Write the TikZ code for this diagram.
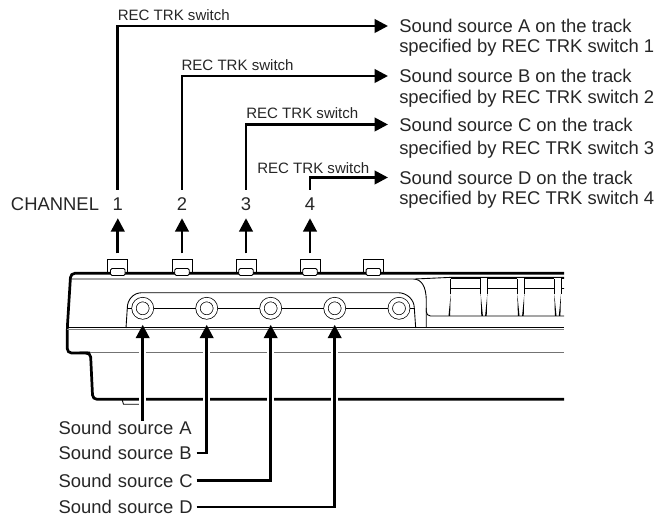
\documentclass[tikz,border=0pt]{standalone}
\usepackage{fontspec}
\setmainfont{Liberation Sans}
\usetikzlibrary{arrows.meta}
\tikzset{
	route/.style={line width=0.68mm, color=black, -{Triangle[length=9.5pt,width=9.5pt]}},
	haloroute/.style={route, preaction={draw=white, line width=1.76mm}},
	bigtext/.style={font=\fontsize{13.1}{15}\selectfont, text=black!85},
	smalltext/.style={font=\fontsize{10.7}{13}\selectfont, text=black!85, anchor=west, inner sep=0pt},
	destlabel/.style={bigtext, anchor=west, inner ysep=0pt, inner xsep=7.8pt},
	srclabel/.style={bigtext, anchor=west, inner sep=0pt, text width=97.9pt, text height=9.6pt, text depth=0pt},
	chnum/.style={bigtext, inner xsep=0pt, inner ysep=5.2pt, text height=9.4pt, text depth=0pt},
	swbox/.style={draw, line width=0.22mm, minimum width=14.3pt, minimum height=10pt, inner sep=0pt},
	swcap/.style={draw, fill=white, line width=0.22mm, rounded corners=1pt, minimum width=10.3pt, minimum height=5pt, inner sep=0pt},
	jack/.style={circle, draw, double, double distance=2.6pt, line width=0.18mm, fill=white, minimum size=12.4pt, inner sep=0pt, outer sep=5.5pt},
	thin line/.style={line width=0.22mm}
}
\def\keycap(#1){
	\draw[thin line, shift={(#1,0)}] (0, 278.8) -- (30, 278.8) (0, 288) -- (30, 288) (0, 278.8) -- (0, 294) (30, 278.8) -- (30, 294);
	\fill[shift={(#1,0)}] (0, 294) -- (-2.2, 316) -- (-0.6, 316) -- cycle (30, 294) -- (32.2, 316) -- (30.6, 316) -- cycle;
}

\begin{document}
\begin{tikzpicture}[x=0.025cm, y=-0.025cm]
	\useasboundingbox (0, 0) rectangle (667, 517);

	% switches behind the top edge
	\node[swbox] (sw1) at (117.8, 266) {};
	\node[swbox] (sw2) at (182, 266) {};
	\node[swbox] (sw3) at (246, 266) {};
	\node[swbox] (sw4) at (310, 266) {};
	\node[swbox] (sw5) at (373.4, 266) {};

	% body
	\draw[line width=0.68mm, rounded corners=3pt] (564, 273.3) -- (70.7, 273.3) -- (67.3, 328) -- (67.3, 353) -- (90, 353);
	\draw[line width=0.68mm, rounded corners=3pt] (88, 353) -- (90.5, 353) -- (92.7, 399.3) -- (564, 399.3);
	\draw[thin line] (122, 399.3) -- (123.5, 404.3) -- (139, 404.3);
	\draw[thin line] (70.7, 279) -- (413, 279) .. controls (422, 279) and (426, 287) .. (426.3, 300) -- (426.3, 328);
	\draw[thin line] (415, 279) -- (450, 277.4) -- (564, 277.4);
	\draw[thin line, rounded corners=3pt] (426.3, 308) -- (426.3, 316) -- (564, 316);
	\draw[thin line] (67.3, 327.7) -- (564, 327.7);
	\draw[thin line, color=black!50] (67.3, 329.9) -- (564, 329.9);
	\draw[thin line, color=black!55] (90, 352.8) -- (564, 352.8);

	% keys on the right
	\begin{scope}
		\clip (440, 270) rectangle (564, 320);
		\keycap(450.7)
		\keycap(487.3)
		\keycap(524.3)
		\keycap(561)
	\end{scope}

	% jack plate
	\draw[thin line] (126, 328) -- (127.3, 308) .. controls (127.3, 299.5) and (133.5, 292.7) .. (142, 292.7) -- (398, 292.7) .. controls (407, 292.7) and (414.3, 299.7) .. (414.3, 308) -- (415.7, 328);
	\draw[thin line] (127.3, 308.3) -- (414.3, 308.3);

	\node[swcap] (cap1) at (117.8, 272) {};
	\node[swcap] (cap2) at (182, 272) {};
	\node[swcap] (cap3) at (246, 272) {};
	\node[swcap] (cap4) at (310, 272) {};
	\node[swcap] (cap5) at (373.4, 272) {};

	\node[jack] (jackA) at (142.7, 308.3) {};
	\node[jack] (jackB) at (206.7, 308.3) {};
	\node[jack] (jackC) at (270.7, 308.3) {};
	\node[jack] (jackD) at (334.7, 308.3) {};
	\node[jack] (jackE) at (399, 308.3) {};

	% channel row
	\node[bigtext, anchor=west, inner sep=0pt, text height=9.4pt, text depth=0pt] (channel) at (10.7, 204) {CHANNEL};
	\node[chnum] (num1) at (117.8, 204) {1};
	\node[chnum] (num2) at (182, 204) {2};
	\node[chnum] (num3) at (246, 204) {3};
	\node[chnum] (num4) at (310, 204) {4};

	\draw[route, shorten <=3.6pt] (sw1.north) -- (num1.south);
	\draw[route, shorten <=3.6pt] (sw2.north) -- (num2.south);
	\draw[route, shorten <=3.6pt] (sw3.north) -- (num3.south);
	\draw[route, shorten <=3.6pt] (sw4.north) -- (num4.south);

	% what each switch sends where
	\node[smalltext] (recA) at (117.5, 15) {REC TRK switch};
	\node[smalltext] (recB) at (181.3, 65) {REC TRK switch};
	\node[smalltext] (recC) at (246, 113.5) {REC TRK switch};
	\node[smalltext] (recD) at (257, 168) {REC TRK switch};

	\node[destlabel] (destA) at (388, 26) {Sound source A on the track};
	\node[destlabel] (destAb) at (388, 47.5) {specified by REC TRK switch 1};
	\node[destlabel] (destB) at (388, 76) {Sound source B on the track};
	\node[destlabel] (destBb) at (388, 99) {specified by REC TRK switch 2};
	\node[destlabel] (destC) at (388, 124.5) {Sound source C on the track};
	\node[destlabel] (destCb) at (388, 150) {specified by REC TRK switch 3};
	\node[destlabel] (destD) at (388, 177.5) {Sound source D on the track};
	\node[destlabel] (destDb) at (388, 200) {specified by REC TRK switch 4};

	\draw[route] (num1.north) |- (destA.west);
	\draw[route] (num2.north) |- (destB.west);
	\draw[route] (num3.north) |- (destC.west);
	\draw[route] (num4.north) |- (destD.west);

	% sources below the body
	\node[srclabel] (srcA) at (58.3, 427.7) {Sound source A};
	\node[srclabel] (srcB) at (58.3, 453) {Sound source B};
	\node[srclabel] (srcC) at (58.3, 480.7) {Sound source C};
	\node[srclabel] (srcD) at (58.3, 507) {Sound source D};

	\draw[haloroute] (srcA.north -| jackA) -- (jackA.south);
	\draw[haloroute] (srcB.east) -| (jackB.south);
	\draw[haloroute] (srcC.east) -| (jackC.south);
	\draw[haloroute] (srcD.east) -| (jackD.south);
\end{tikzpicture}
\end{document}
